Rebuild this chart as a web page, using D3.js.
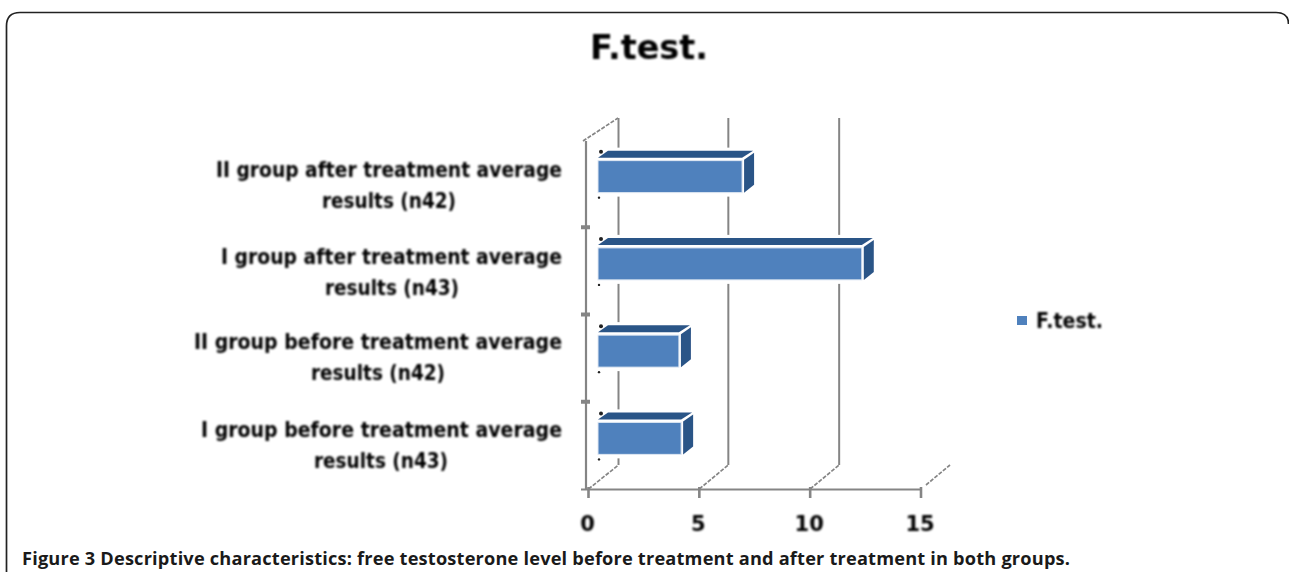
<!DOCTYPE html>
<html><head><meta charset="utf-8">
<script src="https://cdn.jsdelivr.net/npm/d3@7/dist/d3.min.js"></script>
<style>html,body{margin:0;background:#fff}svg{display:block}</style></head>
<body><div id="c"></div>
<script>
const categories = ["I group before treatment average","II group before treatment average","I group after treatment average","II group after treatment average"];
const secondLines = ["results (n43)","results (n42)","results (n43)","results (n42)"];
const values = [3.75, 3.65, 11.9, 6.5];
const ticks = [0,5,10,15];
const seriesName = "F.test.";
const captionBold = "Figure 3";
const captionRest = " Descriptive characteristics: free testosterone level before treatment and after treatment in both groups.";

const W=1289,H=572;
const svg=d3.select("#c").append("svg").attr("width",W).attr("height",H);
const defs=svg.append("defs");
defs.append("filter").attr("id","soft").attr("filterUnits","userSpaceOnUse").attr("x",0).attr("y",0).attr("width",W).attr("height",H).append("feGaussianBlur").attr("stdDeviation",0.9);
defs.append("filter").attr("id","soft2").attr("filterUnits","userSpaceOnUse").attr("x",0).attr("y",0).attr("width",W).attr("height",H).append("feGaussianBlur").attr("stdDeviation",0.5);

// frame
svg.append("path").attr("d",`M6.5,${H} V26 Q6.5,12.5 20,12.5 H1276 Q1288.5,12.5 1288.5,24`).attr("fill","none").attr("stroke","#222").attr("stroke-width",1.7);

const x=d3.scaleLinear().domain([0,15]).range([588.5,921]);
const yTicks=d3.scaleBand().domain(categories).range([489,140]);
const dx=30,dy=-24, barDx=10, barDy=-9;
const plot=svg.append("g").attr("filter","url(#soft2)");
const grid="#858585";

// back wall gridlines
plot.selectAll(".g").data(ticks.slice(0,3)).join("line")
 .attr("x1",d=>x(d)+dx-(d?1:0)).attr("x2",d=>x(d)+dx-(d?1:0)).attr("y1",118).attr("y2",489+dy)
 .attr("stroke",grid).attr("stroke-width",2);
// floor diagonals
plot.selectAll(".f").data(ticks).join("line")
 .attr("x1",d=>x(d)+(d==15?5:0)).attr("x2",d=>x(d)+dx-(d?1:0)).attr("y1",d=>489+(d==15?-4:0)).attr("y2",489+dy)
 .attr("stroke",grid).attr("stroke-width",1.7).attr("stroke-dasharray","4 1.5");
plot.append("line").attr("x1",583).attr("x2",618).attr("y1",141).attr("y2",118).attr("stroke",grid).attr("stroke-width",1.7).attr("stroke-dasharray","4 1.5");
// axes
plot.append("line").attr("x1",586).attr("x2",586).attr("y1",141).attr("y2",490).attr("stroke",grid).attr("stroke-width",2.2);
plot.append("line").attr("x1",581).attr("x2",921).attr("y1",489.5).attr("y2",489.5).attr("stroke",grid).attr("stroke-width",2.2);
plot.selectAll(".xt").data(ticks).join("line").attr("x1",d=>x(d)).attr("x2",d=>x(d)).attr("y1",487).attr("y2",498).attr("stroke",grid).attr("stroke-width",2.6);
plot.selectAll(".yt").data(categories.slice(1)).join("line")
 .attr("x1",581).attr("x2",590).attr("y1",d=>yTicks(d)+yTicks.bandwidth()).attr("y2",d=>yTicks(d)+yTicks.bandwidth()).attr("stroke",grid).attr("stroke-width",4);

// bars
const x0=598, bh=32;
const bw=v=>x(v)-x(0);
const cy=c=>yTicks(c)+yTicks.bandwidth()/2-7;
const bars=plot.selectAll(".bar").data(categories.map((c,i)=>({c,v:values[i]}))).join("g");
bars.append("rect").attr("x",x0-3).attr("y",d=>cy(d.c)-bh/2-13).attr("width",d=>bw(d.v)+barDx+6).attr("height",bh+17).attr("fill","#fff");
bars.append("path").attr("d",d=>{const l=x0,r=x0+bw(d.v),t=cy(d.c)-bh/2;return `M${l},${t-3} L${l+barDx},${t+barDy-1} H${r+barDx+1} L${r},${t-3} Z`;})
 .attr("fill","#2c5487");
bars.append("path").attr("d",d=>{const r=x0+bw(d.v)+2,t=cy(d.c)-bh/2,b=t+bh;return `M${r},${t-1} L${r+barDx},${t+barDy+1} V${b+barDy+1} L${r},${b} Z`;})
 .attr("fill","#2c5487");
bars.append("rect").attr("x",x0).attr("y",d=>cy(d.c)-bh/2).attr("width",d=>bw(d.v)).attr("height",bh)
 .attr("fill","#4f81bd").attr("stroke","#dfe8f3").attr("stroke-width",1);
// specks
bars.append("circle").attr("cx",601).attr("cy",d=>cy(d.c)-bh/2-9).attr("r",2).attr("fill","#222");
bars.append("circle").attr("cx",599).attr("cy",d=>cy(d.c)+bh/2+5).attr("r",1.2).attr("fill","#222");

// text
const txt=svg.append("g").attr("filter","url(#soft)").attr("font-family","'DejaVu Sans',sans-serif").attr("font-weight","bold").attr("fill","#000");
txt.append("text").attr("x",649).attr("y",59).attr("text-anchor","middle").attr("font-size",34).attr("textLength",118).attr("lengthAdjust","spacingAndGlyphs").text(seriesName);
const firstWidth=[361,368,341,346];
const secondCenter=[381,378,392,389];
const nudge=[-2,-3,-1,-1];
const labels=txt.selectAll(".lab").data(categories).join("g");
labels.each(function(c,i){
  const g=d3.select(this); const yc=cy(c)+nudge[i];
  g.append("text").attr("x",562).attr("y",yc+1).attr("text-anchor","end").attr("font-size",21).attr("textLength",firstWidth[i]).attr("lengthAdjust","spacingAndGlyphs").text(c);
  g.append("text").attr("x",secondCenter[i]).attr("y",yc+32).attr("text-anchor","middle").attr("font-size",21).attr("textLength",134).attr("lengthAdjust","spacingAndGlyphs").text(secondLines[i]);
});
txt.selectAll(".xl").data(ticks).join("text").attr("x",d=>x(d)-1).attr("y",531).attr("text-anchor","middle").attr("font-size",21).text(d=>d);

// legend
svg.append("rect").attr("x",1017).attr("y",316).attr("width",10).attr("height",9).attr("fill","#4f81bd").attr("filter","url(#soft2)");
txt.append("text").attr("x",1036).attr("y",328).attr("font-size",21).attr("textLength",67).attr("lengthAdjust","spacingAndGlyphs").text(seriesName);

// caption
const cap=svg.append("text").attr("x",22).attr("y",565).attr("font-family","'Open Sans',sans-serif").attr("font-size",18.2).attr("fill","#1a1a1a").attr("font-weight",700).attr("textLength",1048);
cap.append("tspan").text(captionBold);
cap.append("tspan").text(captionRest);
</script></body></html>
